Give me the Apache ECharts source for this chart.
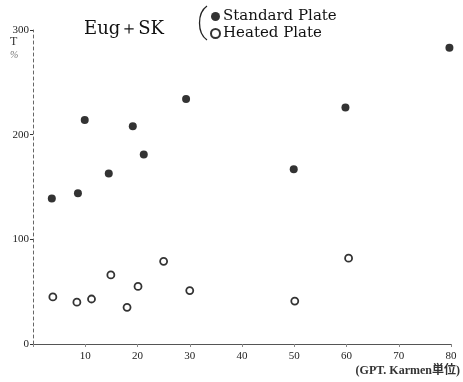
<!DOCTYPE html>
<html>
<head>
<meta charset="utf-8">
<script src="https://cdn.jsdelivr.net/npm/echarts@6/dist/echarts.min.js"></script>
<style>
  html, body { margin: 0; padding: 0; background: #fff; }
  #chart { width: 463px; height: 382px; }
</style>
</head>
<body>
<div id="chart"></div>
<script>
// Standard Plate (filled circles)
var stdX = [3.6, 8.6, 9.9, 14.5, 19.1, 21.2, 29.3, 49.9, 59.8, 79.7];
var stdY = [139, 144, 214, 163, 208, 181, 234, 167, 226, 283];
// Heated Plate (open circles)
var heatX = [3.8, 8.4, 11.2, 14.9, 18, 20.1, 25, 30, 50.1, 60.4, 80.2];
var heatY = [45, 40, 43, 66, 35, 55, 79, 51, 41, 82, 42];

var seriesNames = ['Standard Plate', 'Heated Plate'];
var titleText = 'Eug\uFF0BSK';
var xName = '(GPT. Karmen\u5358\u4F4D)';

function pairs(xs, ys) {
    return xs.map(function (x, i) { return [x, ys[i]]; });
}

var serif = '"Liberation Serif", "DejaVu Serif", serif';
var wideSerif = '"DejaVu Serif", "Liberation Serif", serif';

var chart = echarts.init(document.getElementById('chart'));

var option = {
    backgroundColor: '#fff',
    animation: false,
    title: {
        text: titleText,
        left: 79,
        top: 15,
        textStyle: { fontFamily: wideSerif, fontSize: 18, fontWeight: 'normal', color: '#111' }
    },
    legend: {
        orient: 'vertical',
        left: 205,
        top: 4,
        itemWidth: 9,
        itemHeight: 9,
        itemGap: 2,
        textStyle: { fontFamily: wideSerif, fontSize: 15, color: '#111', padding: [0, 0, 0, -2] },
        data: seriesNames
    },
    grid: { left: 33, right: 12, top: 30, bottom: 38 },
    xAxis: {
        type: 'value',
        min: 0,
        max: 80,
        interval: 10,
        name: xName,
        nameLocation: 'end',
        nameGap: 9,
        nameTextStyle: {
            fontFamily: '"Liberation Serif", "Noto Sans CJK JP", serif',
            fontSize: 12,
            fontWeight: 'bold',
            color: '#333',
            align: 'right',
            verticalAlign: 'top',
            padding: [21, 0, 0, 0]
        },
        splitLine: { show: false },
        axisLine: { lineStyle: { color: '#555', width: 1 } },
        axisTick: { show: true, length: 3, lineStyle: { color: '#888' } },
        axisLabel: {
            fontFamily: serif,
            fontSize: 11,
            color: '#222',
            margin: 7,
            formatter: function (v) { return v === 0 ? '' : v; }
        }
    },
    yAxis: {
        type: 'value',
        min: 0,
        max: 300,
        interval: 100,
        splitLine: { show: false },
        axisLine: { show: true, lineStyle: { color: '#666', width: 1, type: [3, 3] } },
        axisTick: { show: true, length: 3, lineStyle: { color: '#333' } },
        axisLabel: {
            fontFamily: serif,
            fontSize: 11,
            color: '#222',
            margin: 4
        }
    },
    graphic: [
        {
            // legend bracket
            type: 'bezierCurve',
            shape: { x1: 207, y1: 6, cpx1: 197, cpy1: 13, cpx2: 197, cpy2: 33, x2: 207, y2: 40 },
            style: { stroke: '#222', lineWidth: 1.3, fill: null }
        },
        { type: 'text', left: 10, top: 36, style: { text: 'T', font: '12px ' + serif, fill: '#333' } },
        { type: 'text', left: 10, top: 50, style: { text: '%', font: 'italic 10px ' + serif, fill: '#777' } }
    ],
    series: [{
        name: seriesNames[0],
        type: 'scatter',
        symbol: 'circle',
        symbolSize: 8,
        itemStyle: { color: '#000' },
        data: pairs(stdX, stdY)
    }, {
        name: seriesNames[1],
        type: 'scatter',
        symbol: 'circle',
        symbolSize: 7,
        itemStyle: { color: '#fff', borderColor: '#000', borderWidth: 1.8 },
        data: pairs(heatX, heatY)
    }]
};

chart.setOption(option);
</script>
</body>
</html>
